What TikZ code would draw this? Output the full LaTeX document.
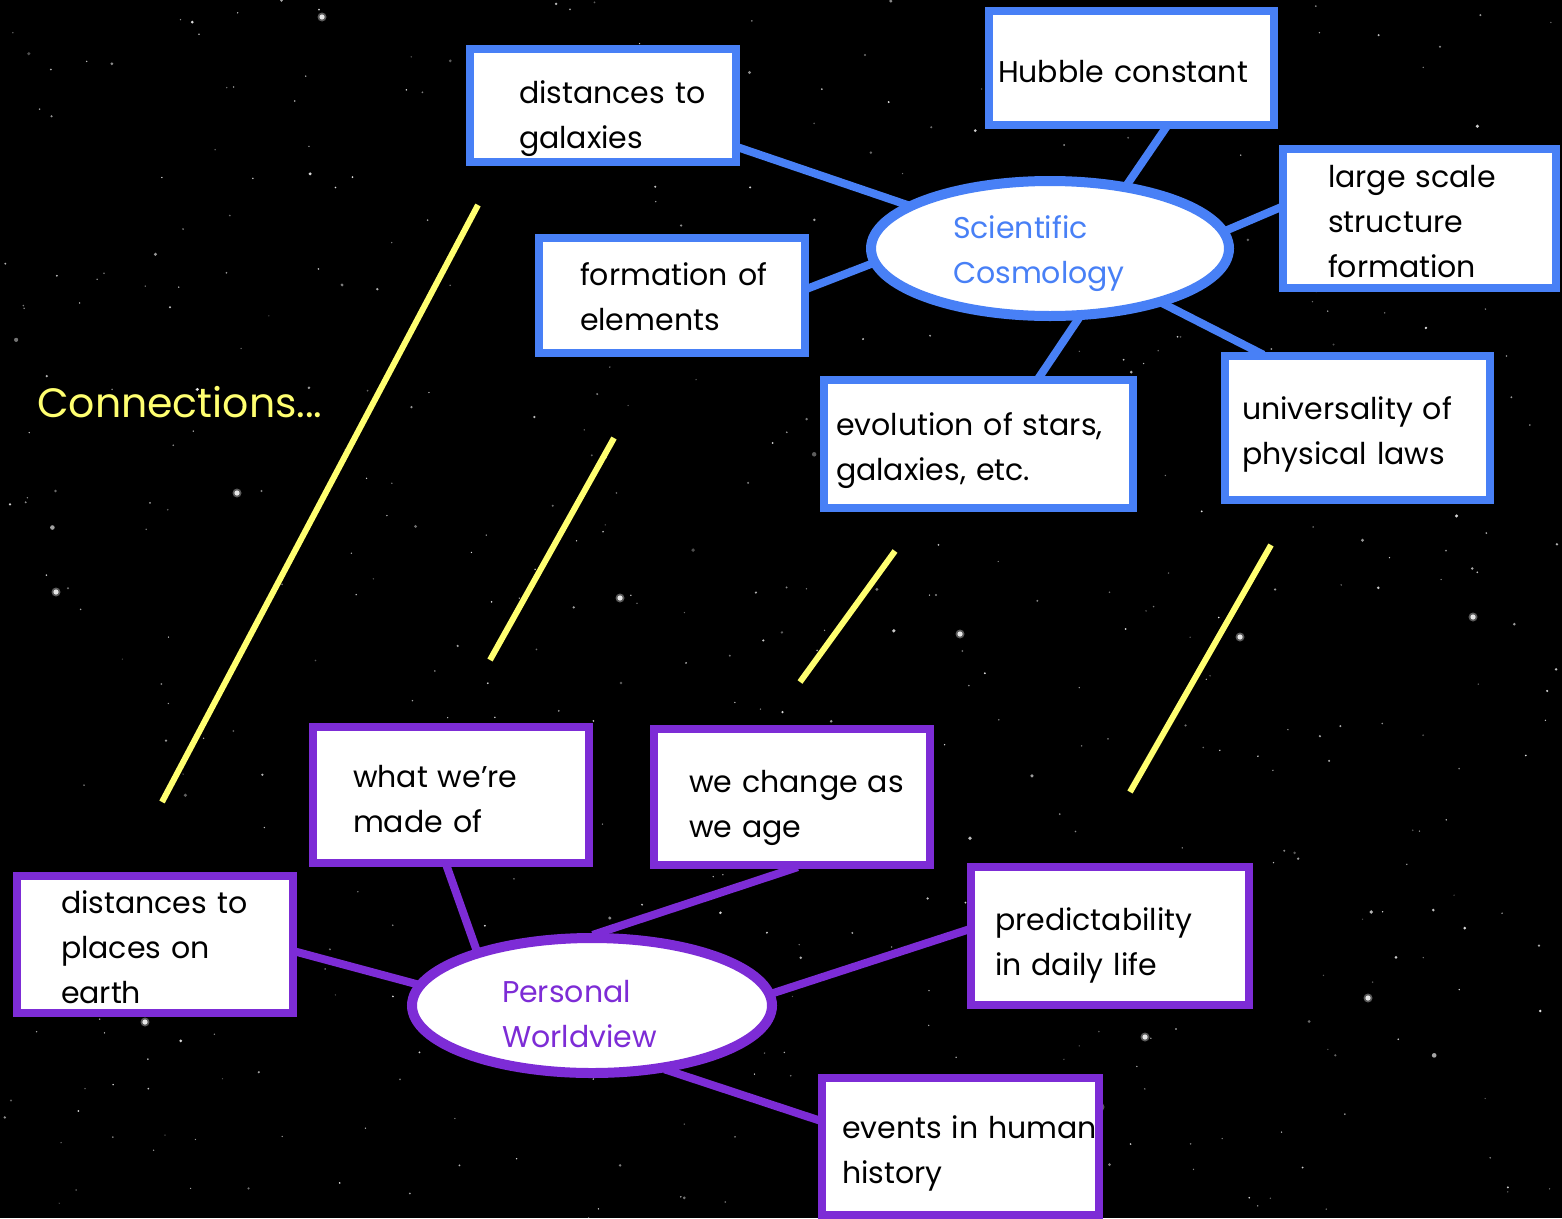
\documentclass[tikz,border=0pt]{standalone}
\usepackage{fontspec}
\setmainfont{Poppins}
\usetikzlibrary{shapes.geometric}
\definecolor{cblue}{RGB}{72,128,246}
\definecolor{cpurple}{RGB}{125,44,214}
\definecolor{cyellow}{RGB}{255,255,112}
\newcommand\bxfont{\fontsize{30}{45}\selectfont}
\newlength\lpadlen
\newcommand\ls{\hspace*{\lpadlen}}
\pgfdeclarelayer{back}
\pgfdeclarelayer{mid}
\pgfsetlayers{back,mid,main}
\begin{document}
\begin{tikzpicture}[x=1pt,y=-1pt,
  pad/.style={execute at begin node={\setlength{\lpadlen}{#1}}},
  bx/.style={rectangle, draw=#1, line width=8pt, fill=white, inner sep=0pt,
    align=left, font=\bxfont, text=black, text height=0pt},
  ell/.style={ellipse, draw=#1, line width=10pt, fill=white, inner sep=0pt,
    align=left, font=\bxfont, text=#1, text width=240pt, text height=0pt},
  link/.style={draw=#1, line width=8pt, shorten <=-6pt, shorten >=-6pt},
  yl/.style={draw=cyellow, line width=6pt}]
\useasboundingbox (0,0) rectangle (1562,1218);
\begin{pgfonlayer}{back}
\fill[black] (0,0) rectangle (1562,1218);
\pgfmathsetseed{4711}
\foreach \i in {1,...,520}{
  \pgfmathsetmacro{\sx}{rnd*1562}
  \pgfmathsetmacro{\sy}{rnd*1218}
  \pgfmathsetmacro{\sr}{0.7+2.0*rnd*rnd*rnd}
  \pgfmathsetmacro{\so}{0.3+0.6*rnd}
  \fill[white, opacity=\so] (\sx,\sy) circle[radius=\sr];
}
\foreach \px/\py in {1368/998,1145/1037,620/598,145/1022,237/493,1240/637,1100/1107,1473/617,322/17,56/592,433/1021,960/634}{
  \fill[white, opacity=0.35] (\px,\py) circle[radius=4.5];
  \fill[white, opacity=0.85] (\px,\py) circle[radius=2.6];
}
\end{pgfonlayer}

% Scientific cosmology
\node[ell=cblue, pad=23pt, minimum width=358pt, minimum height=135pt, text depth=21pt] (cosmo) at (1050,248.5) {\ls Scientific\\\ls Cosmology};
\node[bx=cblue, pad=49pt, minimum width=266pt, minimum height=113pt, text width=266pt, text depth=5pt] (gal) at (603,105.5) {\ls distances to\\\ls galaxies};
\node[bx=cblue, pad=9pt, minimum width=285pt, minimum height=114pt, text width=285pt, text height=28pt, text depth=0pt] (hub) at (1131.5,68) {\ls Hubble constant};
\node[bx=cblue, pad=45pt, minimum width=273pt, minimum height=139pt, text width=273pt, text depth=63pt] (lss) at (1419.5,218.5) {\ls large scale\\\ls structure\\\ls formation};
\node[bx=cblue, pad=41pt, minimum width=266pt, minimum height=115pt, text width=266pt, text depth=21pt] (form) at (672,295.5) {\ls formation of\\\ls elements};
\node[bx=cblue, pad=12pt, minimum width=309pt, minimum height=128pt, text width=309pt, text depth=18pt] (evo) at (978.5,444) {\ls evolution of stars,\\\ls galaxies, etc.};
\node[bx=cblue, pad=17pt, minimum width=265pt, minimum height=144pt, text width=265pt, text depth=18pt] (uni) at (1357.5,428) {\ls universality of\\\ls physical laws};

% Personal worldview
\node[ell=cpurple, pad=30pt, minimum width=360pt, minimum height=135pt, text depth=7pt] (pers) at (592,1005.5) {\ls Personal\\\ls Worldview};
\node[bx=cpurple, pad=40pt, minimum width=276pt, minimum height=136pt, text width=276pt, text depth=16pt] (made) at (451,795) {\ls what we’re\\\ls made of};
\node[bx=cpurple, pad=35pt, minimum width=276pt, minimum height=136pt, text width=276pt, text depth=10pt] (change) at (792,797) {\ls we change as\\\ls we age};
\node[bx=cpurple, pad=44pt, minimum width=276pt, minimum height=137pt, text width=276pt, text depth=63pt] (earth) at (155,944.5) {\ls distances to\\\ls places on\\\ls earth};
\node[bx=cpurple, pad=24pt, minimum width=278pt, minimum height=138pt, text width=278pt, text depth=12pt] (pred) at (1110,936) {\ls predictability\\\ls in daily life};
\node[bx=cpurple, pad=20pt, minimum width=277pt, minimum height=137pt, text width=277pt, text depth=17pt] (events) at (960.5,1146.5) {\ls events in human\\\ls history};

\node[anchor=base west, inner sep=0pt, text=cyellow, font=\fontsize{41}{50}\selectfont] (conn) at (37,417) {Connections...};

\begin{pgfonlayer}{mid}
\draw[link=cblue] ([yshift=-42.5pt]gal.east) -- (cosmo.163);
\draw[link=cblue] ([xshift=33.5pt]hub.south) -- (cosmo.40);
\draw[link=cblue] ([yshift=10.5pt]lss.west) -- (cosmo.6);
\draw[link=cblue] ([yshift=7.5pt]form.east) -- (cosmo.185);
\draw[link=cblue] ([xshift=61.5pt]evo.north) -- (cosmo.291);
\draw[link=cblue] ([xshift=-99.5pt]uni.north) -- (cosmo.334);
\draw[link=cpurple] ([xshift=-4pt]made.south) -- (pers.154);
\draw[link=cpurple] (change.south) -- (pers.85);
\draw[link=cpurple] ([yshift=-7.5pt]earth.east) -- (pers.173);
\draw[link=cpurple] ([yshift=6pt]pred.west) -- (pers.4);
\draw[link=cpurple] ([yshift=26.5pt]events.west) -- (pers.320);
\end{pgfonlayer}

\coordinate (ya1) at (478,205);
\coordinate (ya2) at (162,802);
\coordinate (yb1) at (614,438);
\coordinate (yb2) at (490,660);
\coordinate (yc1) at (895,551);
\coordinate (yc2) at (800,682);
\coordinate (yd1) at (1271,545);
\coordinate (yd2) at (1130,792);
\draw[yl] (ya1) -- (ya2);
\draw[yl] (yb1) -- (yb2);
\draw[yl] (yc1) -- (yc2);
\draw[yl] (yd1) -- (yd2);
\end{tikzpicture}
\end{document}
